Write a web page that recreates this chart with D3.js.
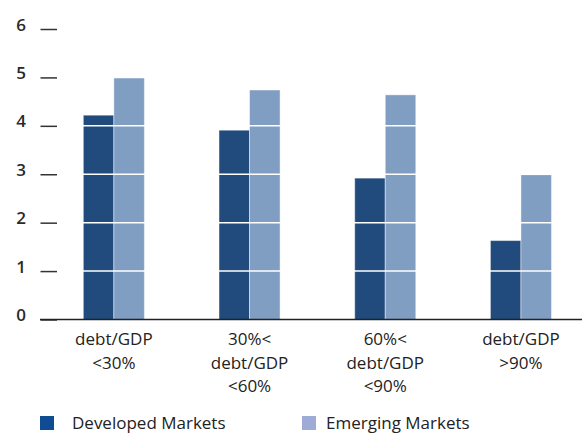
<!DOCTYPE html>
<html>
<head>
<meta charset="utf-8">
<script src="https://cdn.jsdelivr.net/npm/d3@7"></script>
<style>
  body { margin: 0; background: #fff; }
  svg { display: block; font-family: "Open Sans", sans-serif; }
</style>
</head>
<body>
<svg id="chart" width="582" height="433"></svg>
<script>
// Chart values.
let categories = ["g1", "g2", "g3", "g4"];
let categoryLabels = [
    ["debt/GDP", "<30%"],
    ["30%<", "debt/GDP", "<60%"],
    ["60%<", "debt/GDP", "<90%"],
    ["debt/GDP", ">90%"]
];
let seriesNames = ["Developed Markets", "Emerging Markets"];
let developed = [4.22, 3.91, 2.92, 1.63];
let emerging = [5.0, 4.74, 4.64, 2.99];
let yTicks = [0, 1, 2, 3, 4, 5, 6];

let barColors = ["#214a7d", "#809dc2"];
let legendColors = ["#0f4c94", "#9eabd6"];

let svg = d3.select("#chart");

let yScale = d3.scaleLinear()
    .domain([0, 6])
    .range([319.5, 29]);

let xScale = d3.scaleBand()
    .domain(categories)
    .range([46, 588.8])
    .paddingInner(0.55)
    .paddingOuter(0.275);

let xInner = d3.scaleBand()
    .domain(seriesNames)
    .range([0, xScale.bandwidth()]);

let rows = categories.map((c, i) => ({
    cat: c,
    values: [developed[i], emerging[i]]
}));

// Bars
let groups = svg.append("g")
    .selectAll("g")
    .data(rows)
    .join("g")
    .attr("transform", d => `translate(${xScale(d.cat)},0)`);

groups.selectAll("rect")
    .data(d => d.values.map((v, j) => ({name: seriesNames[j], value: v, j: j})))
    .join("rect")
    .attr("x", d => xInner(d.name))
    .attr("y", d => yScale(d.value))
    .attr("width", xInner.bandwidth())
    .attr("height", d => yScale(0) - yScale(d.value))
    .attr("fill", d => barColors[d.j])
    .attr("stroke", "rgba(255,255,255,0.45)")
    .attr("stroke-width", 1);

// White grid lines cut through the bars
svg.append("g")
    .selectAll("line")
    .data(yTicks.filter(t => t > 0))
    .join("line")
    .attr("x1", 40)
    .attr("x2", 582)
    .attr("y1", d => yScale(d))
    .attr("y2", d => yScale(d))
    .attr("stroke", "#fff")
    .attr("stroke-width", 1.5);

// Y axis: short ticks with labels to the left
let yAxis = svg.append("g")
    .attr("transform", "translate(57,0)")
    .call(d3.axisLeft(yScale).tickValues(yTicks).tickFormat(d3.format("d"))
        .tickSize(16.5).tickPadding(14.5));

yAxis.select(".domain").remove();
yAxis.selectAll(".tick line")
    .attr("stroke", "#333")
    .attr("stroke-width", 1.5);
yAxis.selectAll(".tick text")
    .attr("dy", "0.06em")
    .attr("fill", "#2a2a2a")
    .style("font-family", "'Open Sans', sans-serif")
    .style("font-size", "17px")
    .style("font-weight", "600");

// Baseline
svg.append("line")
    .attr("x1", 40)
    .attr("x2", 582)
    .attr("y1", yScale(0))
    .attr("y2", yScale(0))
    .attr("stroke", "#222")
    .attr("stroke-width", 1.5);

// Category labels
let labels = svg.append("g")
    .selectAll("text")
    .data(rows)
    .join("text")
    .attr("text-anchor", "middle")
    .attr("fill", "#222")
    .style("font-size", "17px")
    .attr("x", d => xScale(d.cat) + xScale.bandwidth() / 2);

labels.selectAll("tspan")
    .data((d, i) => categoryLabels[i])
    .join("tspan")
    .attr("x", function() { return d3.select(this.parentNode).attr("x"); })
    .attr("y", (d, i) => 345 + i * 23.5)
    .text(d => d);

// Legend
let legendX = [40, 302];
let legend = svg.append("g")
    .selectAll("g")
    .data(seriesNames)
    .join("g")
    .attr("transform", (d, i) => `translate(${legendX[i]},416)`);

legend.append("rect")
    .attr("width", 14)
    .attr("height", 14)
    .attr("fill", (d, i) => legendColors[i]);

legend.append("text")
    .attr("x", (d, i) => i === 0 ? 32 : 24)
    .attr("y", 13)
    .attr("fill", "#222")
    .style("font-size", "17px")
    .text(d => d);
</script>
</body>
</html>
